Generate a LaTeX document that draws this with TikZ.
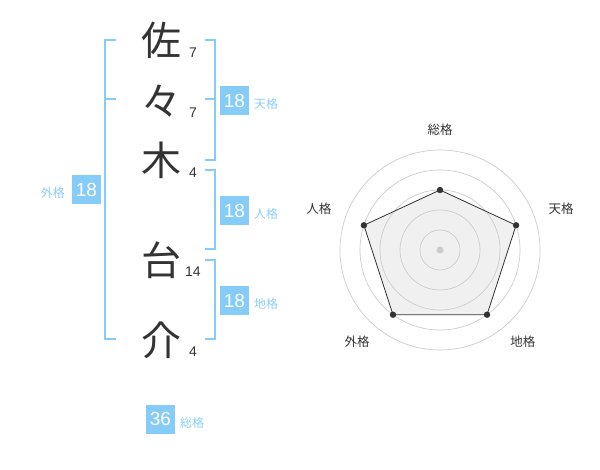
\documentclass[tikz,border=0pt]{standalone}
\usepackage{fontspec}
\setmainfont{Liberation Sans}
\newfontfamily\jpfont{Noto Sans CJK JP}
\definecolor{kakublue}{HTML}{85CCF8}
\definecolor{kakutext}{HTML}{8BCEF5}
\definecolor{inkgray}{HTML}{333333}
\definecolor{ringgray}{HTML}{CCCCCC}
\definecolor{areagray}{HTML}{F0F0F0}
\tikzset{
	kanji/.style={font=\jpfont\fontsize{40}{40}\selectfont, text=inkgray, inner sep=0pt},
	strokes/.style={font=\fontsize{14}{14}\selectfont, text=inkgray, inner sep=0pt},
	scorebox/.style={fill=kakublue, text=white, minimum width=29pt, minimum height=29pt, inner sep=0pt, font=\fontsize{19}{19}\selectfont},
	kakulabel/.style={font=\jpfont\fontsize{12}{12}\selectfont, text=kakutext, inner sep=0pt},
	bracket/.style={draw=kakublue, line width=2pt},
	ring/.style={draw=ringgray, line width=0.7pt},
	axislabel/.style={font=\jpfont\fontsize{12.5}{12.5}\selectfont, text=inkgray, inner sep=0pt},
}
\begin{document}
\begin{tikzpicture}[x=1pt, y=-1pt]
	\useasboundingbox (0,0) rectangle (600,470);

	% name column
	\node[kanji] (c1) at (161,40) {佐};
	\node[kanji] (c2) at (161,101) {々};
	\node[kanji] (c3) at (161,160) {木};
	\node[kanji] (c4) at (161,260) {台};
	\node[kanji] (c5) at (161,340) {介};

	\node[strokes] (n1) at (193,53) {7};
	\node[strokes] (n2) at (193,113) {7};
	\node[strokes] (n3) at (193,173) {4};
	\node[strokes] (n4) at (193,272) {14};
	\node[strokes] (n5) at (193,352) {4};

	% brackets
	\draw[bracket] (116,40) -- (105,40) -- (105,339) -- (116,339);
	\draw[bracket] (105,99) -- (116,99);
	\draw[bracket] (205,40) -- (215,40) -- (215,160) -- (205,160);
	\draw[bracket] (205,99) -- (215,99);
	\draw[bracket] (205,170) -- (215,170) -- (215,249) -- (205,249);
	\draw[bracket] (205,260) -- (215,260) -- (215,339) -- (205,339);

	% scores
	\node[scorebox] (ten) at (234.5,100.5) {18};
	\node[kakulabel, anchor=west] (tenlbl) at (254,104) {天格};
	\node[scorebox] (jin) at (234.5,211) {18};
	\node[kakulabel, anchor=west] (jinlbl) at (254,214) {人格};
	\node[scorebox] (chi) at (234.5,300.5) {18};
	\node[kakulabel, anchor=west] (chilbl) at (254,304) {地格};
	\node[scorebox] (gai) at (86.5,190) {18};
	\node[kakulabel, anchor=east] (gailbl) at (65,193) {外格};
	\node[scorebox] (sou) at (160.5,419) {36};
	\node[kakulabel, anchor=west] (soulbl) at (180,423) {総格};

	% radar
	\begin{scope}[shift={(440,250)}]
		\coordinate (pSou) at (-90:60);
		\coordinate (pTen) at (-18:80);
		\coordinate (pChi) at (54:80);
		\coordinate (pGai) at (126:80);
		\coordinate (pJin) at (198:80);
		\fill[areagray] (pSou) -- (pTen) -- (pChi) -- (pGai) -- (pJin) -- cycle;
		\foreach \r in {20,40,...,100}
			\draw[ring] (0,0) circle (\r pt);
		\fill[ringgray] (0,0) circle (3.5pt);
		\draw[inkgray, line width=0.8pt] (pSou) -- (pTen) -- (pChi) -- (pGai) -- (pJin) -- cycle;
		\foreach \p in {pSou,pTen,pChi,pGai,pJin}
			\fill[inkgray] (\p) circle (3.2pt);
		\node[axislabel] (aSou) at (-90:120) {総格};
		\node[axislabel] (aTen) at (-19:128) {天格};
		\node[axislabel] (aChi) at (48:124) {地格};
		\node[axislabel] (aGai) at (132:124) {外格};
		\node[axislabel] (aJin) at (199:128) {人格};
	\end{scope}
\end{tikzpicture}
\end{document}
